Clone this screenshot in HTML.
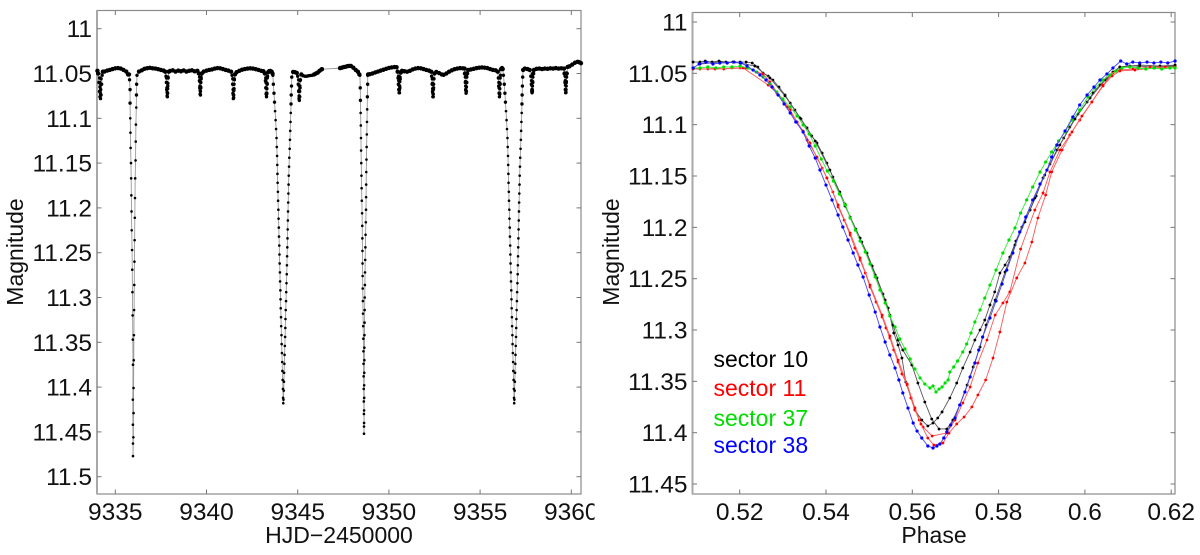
<!DOCTYPE html>
<html>
<head>
<meta charset="utf-8">
<title>Light curve and eclipse phases</title>
<style>
html,body{margin:0;padding:0;background:#fff;}
svg{display:block;}
text{font-family:"Liberation Sans",sans-serif;font-size:23px;fill:#111;}
text.tick{font-size:24.5px;}
</style>
</head>
<body>
<svg id="fig" xmlns="http://www.w3.org/2000/svg" width="1200" height="555" viewBox="0 0 1200 555">
<defs><clipPath id="edge"><rect x="0" y="0" width="594.5" height="555"/></clipPath></defs>
<rect x="0" y="0" width="1200" height="555" fill="#fff"/>
<g id="left"></g>
<g id="right"></g>
<text transform="translate(23,252) rotate(-90)" text-anchor="middle">Magnitude</text>
<text x="339" y="543" text-anchor="middle">HJD−2450000</text>
<text transform="translate(619,252) rotate(-90)" text-anchor="middle">Magnitude</text>
<text x="934" y="543" text-anchor="middle">Phase</text>
<text x="713.5" y="367" style="fill:#000">sector 10</text>
<text x="713.5" y="396" style="fill:#f00">sector 11</text>
<text x="713.5" y="426" style="fill:#00dc00">sector 37</text>
<text x="713.5" y="453" style="fill:#00f">sector 38</text>
</svg>
<script>
const leftXTicks = [9335, 9340, 9345, 9350, 9355, 9360];
const leftYTicks = ["11", "11.05", "11.1", "11.15", "11.2", "11.25", "11.3", "11.35", "11.4", "11.45", "11.5"];
const rightXTicks = ["0.52", "0.54", "0.56", "0.58", "0.6", "0.62"];
const rightYTicks = ["11", "11.05", "11.1", "11.15", "11.2", "11.25", "11.3", "11.35", "11.4", "11.45"];

const lightTimes = [
9334.02,9334.06,9334.1,9334.13,9334.16,9334.19,9334.22,9334.25,9334.28,9334.32,
9334.4,9334.55,9334.7,9334.85,9335,9335.15,9335.3,9335.45,9335.6,9335.7,
9335.75,9335.78,9335.81,9335.81,9335.82,9335.83,9335.84,9335.86,9335.87,9335.88,9335.89,9335.9,9335.92,9335.93,9335.94,9335.95,9335.96,9335.97,9335.96,9335.965,9335.97,9335.97,
9335.99,9336,9336,9336.01,9336.02,9336.03,9336.04,9336.05,9336.06,9336.07,9336.08,9336.09,9336.11,9336.12,9336.13,9336.15,9336.16,9336.17,9336.19,
9336.3,9336.45,9336.6,9336.75,9336.9,9337.05,9337.2,9337.35,9337.5,9337.65,9337.74,
9337.78,9337.8,9337.82,9337.84,9337.855,9337.87,9337.88,9337.9,9337.93,
9338,9338.15,9338.3,9338.45,9338.6,9338.75,9338.9,9339.05,9339.2,9339.35,9339.5,
9339.58,9339.61,9339.63,9339.65,9339.67,9339.69,9339.71,9339.74,
9339.85,9340,9340.15,9340.3,9340.45,9340.6,9340.75,9340.9,9341.05,9341.2,9341.35,
9341.4,9341.43,9341.45,9341.47,9341.49,9341.51,9341.53,9341.56,
9341.65,9341.8,9341.95,9342.1,9342.25,9342.4,9342.55,9342.7,9342.85,9343,9343.12,9343.2,
9343.23,9343.25,9343.27,9343.29,9343.31,9343.33,9343.35,9343.38,9343.43,9343.5,9343.57,9343.62,
9343.64,9343.665,9343.7,9343.73,9343.76,9343.79,9343.815,9343.84,9343.855,9343.87,9343.88,9343.89,9343.9,9343.915,9343.925,9343.94,9343.95,9343.965,9343.975,9343.99,9344,9344.01,9344.025,9344.035,9344.05,9344.06,9344.07,9344.085,9344.095,9344.11,9344.12,9344.135,9344.15,9344.16,9344.175,9344.19,9344.2,9344.21,
9344.22,9344.235,9344.245,9344.255,9344.27,9344.28,9344.295,9344.31,9344.32,9344.33,9344.345,9344.36,9344.37,9344.385,9344.4,9344.41,9344.42,9344.43,9344.44,9344.45,9344.46,9344.47,9344.48,9344.49,9344.5,9344.51,9344.525,9344.54,9344.56,9344.575,9344.59,9344.605,9344.62,9344.635,9344.645,9344.66,9344.675,
9344.75,9344.85,9344.95,9345,
9345.03,9345.05,9345.07,9345.09,9345.11,9345.13,9345.15,9345.2,
9345.3,9345.4,9345.5,9345.6,9345.7,9345.8,9345.9,9346,9346.1,9346.2,9346.3,9346.33,
9347.32,9347.42,9347.52,9347.62,9347.72,9347.82,9347.92,9348.05,9348.18,9348.3,9348.38,
9348.41,9348.43,9348.44,9348.45,9348.46,9348.47,9348.475,9348.485,9348.495,9348.505,9348.515,9348.53,9348.54,9348.545,9348.55,9348.555,9348.56,9348.565,9348.575,9348.58,9348.59,9348.6,9348.605,9348.61,9348.615,9348.62,9348.625,9348.63,9348.635,9348.635,
9348.64,9348.64,9348.645,9348.645,9348.65,9348.655,9348.655,9348.66,9348.665,9348.67,9348.675,9348.685,9348.69,9348.7,9348.71,9348.72,9348.735,9348.745,9348.75,9348.755,9348.76,9348.77,9348.78,9348.79,9348.8,9348.81,9348.82,9348.835,9348.84,
9348.86,9348.95,9349.1,9349.25,9349.4,9349.55,9349.7,9349.85,9350,9350.15,9350.3,9350.42,9350.48,
9350.5,9350.52,9350.54,9350.56,9350.58,9350.6,9350.62,9350.65,
9350.72,9350.85,9351,9351.15,9351.3,9351.45,9351.6,9351.75,9351.9,9352.05,9352.2,9352.32,
9352.34,9352.37,9352.39,9352.41,9352.43,9352.45,9352.47,9352.5,
9352.6,9352.75,9352.9,9353,9353.15,9353.3,9353.45,9353.6,9353.75,9353.9,9354.05,9354.15,
9354.17,9354.19,9354.21,9354.23,9354.25,9354.27,9354.29,
9354.35,9354.5,9354.65,9354.8,9354.95,9355.1,9355.25,9355.4,9355.55,9355.7,9355.85,9355.97,
9356,9356.02,9356.04,9356.06,9356.08,9356.1,9356.12,9356.15,9356.2,9356.24,
9356.28,9356.325,9356.36,9356.39,9356.42,9356.45,9356.475,9356.5,9356.515,9356.53,9356.54,9356.55,9356.56,9356.575,9356.585,9356.6,9356.61,9356.625,9356.635,9356.65,9356.66,9356.67,9356.685,9356.695,9356.71,9356.72,9356.73,9356.745,9356.755,9356.77,9356.78,9356.795,9356.81,9356.82,9356.835,9356.85,9356.86,9356.87,
9356.88,9356.895,9356.905,9356.915,9356.93,9356.94,9356.955,9356.97,9356.98,9356.99,9357.005,9357.02,9357.03,9357.045,9357.06,9357.07,9357.08,9357.09,9357.1,9357.11,9357.12,9357.13,9357.14,9357.15,9357.16,9357.17,9357.185,9357.2,9357.22,9357.235,9357.25,9357.265,9357.28,9357.295,9357.305,9357.32,9357.335,
9357.36,9357.45,9357.6,9357.72,
9357.78,9357.81,9357.83,9357.85,9357.87,9357.89,9357.91,9357.95,
9358.1,9358.25,9358.4,9358.55,9358.7,9358.85,9359,9359.15,9359.3,9359.45,9359.6,
9359.63,9359.65,9359.67,9359.69,9359.71,9359.73,9359.75,
9359.8,9359.9,9360.05,9360.2,9360.35,9360.45,9360.53
];
const lightMags = [
11.047,11.05,11.06,11.07,11.076,11.078,11.074,11.062,11.052,11.048,
11.0478,11.0468,11.046,11.045,11.0442,11.0439,11.0445,11.046,11.0478,11.051,
11.051,11.057,11.068,11.083,11.1,11.116,11.133,11.15,11.167,11.186,11.204,11.225,11.247,11.269,11.294,11.32,11.347,11.375,11.414,11.442,11.463,11.477,
11.456,11.429,11.401,11.37,11.342,11.314,11.286,11.26,11.236,11.211,11.189,11.167,11.147,11.126,11.107,11.088,11.074,11.062,11.052,
11.0478,11.0465,11.0448,11.0441,11.0437,11.0442,11.0445,11.0452,11.046,11.0468,11.048,
11.053,11.06,11.068,11.075,11.076,11.072,11.064,11.055,11.048,
11.0472,11.0465,11.0478,11.0468,11.0475,11.0466,11.0478,11.047,11.0465,11.0476,11.047,
11.05,11.058,11.066,11.073,11.074,11.066,11.056,11.05,
11.0478,11.0468,11.046,11.0455,11.0445,11.044,11.0442,11.045,11.046,11.0468,11.048,
11.052,11.062,11.072,11.078,11.077,11.067,11.057,11.051,
11.0485,11.047,11.0458,11.045,11.0445,11.0442,11.0445,11.0452,11.046,11.047,11.0475,11.05,
11.058,11.066,11.073,11.076,11.072,11.062,11.053,11.0485,11.0475,11.0472,11.048,11.05,
11.052,11.062,11.072,11.082,11.092,11.102,11.112,11.122,11.132,11.142,11.152,11.162,11.172,11.182,11.192,11.202,11.212,11.222,11.232,11.242,11.252,11.262,11.272,11.282,11.292,11.302,11.312,11.322,11.332,11.342,11.352,11.362,11.372,11.382,11.392,11.402,11.412,11.418,
11.414,11.404,11.394,11.384,11.374,11.364,11.354,11.344,11.334,11.324,11.314,11.304,11.294,11.284,11.274,11.264,11.254,11.244,11.234,11.224,11.214,11.204,11.194,11.184,11.174,11.164,11.154,11.144,11.134,11.124,11.114,11.104,11.094,11.084,11.074,11.064,11.054,
11.0483,11.0485,11.0494,11.053,
11.062,11.07,11.078,11.08,11.076,11.066,11.057,11.051,
11.0525,11.053,11.053,11.0525,11.0522,11.052,11.051,11.05,11.049,11.047,11.0455,11.0452,
11.044,11.0435,11.0428,11.0425,11.0418,11.0416,11.0416,11.0435,11.046,11.048,11.051,
11.052,11.066,11.08,11.094,11.108,11.122,11.136,11.15,11.164,11.178,11.192,11.206,11.22,11.234,11.248,11.262,11.276,11.29,11.304,11.318,11.332,11.346,11.36,11.374,11.388,11.402,11.416,11.43,11.444,11.452,
11.44,11.426,11.412,11.398,11.384,11.37,11.356,11.342,11.328,11.314,11.3,11.286,11.272,11.258,11.244,11.23,11.216,11.202,11.188,11.174,11.16,11.146,11.132,11.118,11.104,11.09,11.076,11.062,11.052,
11.051,11.0508,11.05,11.0488,11.0478,11.0468,11.0458,11.0448,11.0438,11.0432,11.0428,11.043,11.048,
11.055,11.062,11.068,11.0715,11.0715,11.066,11.056,11.049,
11.047,11.0475,11.048,11.047,11.0455,11.0445,11.044,11.0442,11.045,11.046,11.0468,11.048,
11.053,11.062,11.07,11.076,11.076,11.066,11.056,11.05,
11.0483,11.0495,11.051,11.0515,11.05,11.048,11.0465,11.0452,11.0445,11.044,11.0442,11.0445,
11.05,11.06,11.068,11.072,11.07,11.06,11.05,
11.0461,11.0455,11.0448,11.044,11.0435,11.0432,11.0435,11.044,11.045,11.046,11.0465,11.048,
11.055,11.064,11.072,11.076,11.073,11.062,11.052,11.045,11.0439,11.045,
11.052,11.062,11.072,11.082,11.092,11.102,11.112,11.122,11.132,11.142,11.152,11.162,11.172,11.182,11.192,11.202,11.212,11.222,11.232,11.242,11.252,11.262,11.272,11.282,11.292,11.302,11.312,11.322,11.332,11.342,11.352,11.362,11.372,11.382,11.392,11.402,11.412,11.418,
11.414,11.404,11.394,11.384,11.374,11.364,11.354,11.344,11.334,11.324,11.314,11.304,11.294,11.284,11.274,11.264,11.254,11.244,11.234,11.224,11.214,11.204,11.194,11.184,11.174,11.164,11.154,11.144,11.134,11.124,11.114,11.104,11.094,11.084,11.074,11.064,11.054,
11.046,11.0445,11.045,11.046,
11.053,11.062,11.07,11.0715,11.07,11.06,11.05,11.046,
11.0448,11.0445,11.045,11.0445,11.0448,11.0442,11.0445,11.044,11.0445,11.0442,11.0445,
11.05,11.06,11.068,11.0715,11.071,11.06,11.05,
11.0427,11.042,11.04,11.038,11.037,11.0375,11.0385
];

const shallowDipTimes = [
9334.14,9334.15,9334.16,9334.17,9334.19,9334.2,9334.21,9334.22,
9337.81,9337.82,9337.83,9337.84,9337.86,9337.87,9337.88,9337.89,
9339.62,9339.63,9339.64,9339.65,9339.67,9339.68,9339.69,9339.7,
9341.44,9341.45,9341.46,9341.47,9341.49,9341.5,9341.51,9341.52,
9343.25,9343.26,9343.27,9343.28,9343.3,9343.31,9343.32,9343.33,
9345.05,9345.06,9345.07,9345.08,9345.1,9345.11,9345.12,9345.13,
9350.53,9350.54,9350.55,9350.56,9350.58,9350.59,9350.6,9350.61,
9352.38,9352.39,9352.4,9352.41,9352.43,9352.44,9352.45,9352.46,
9354.19,9354.2,9354.21,9354.22,9354.24,9354.25,9354.26,9354.27,
9356.02,9356.03,9356.04,9356.05,9356.07,9356.08,9356.09,9356.1,
9357.81,9357.82,9357.83,9357.84,9357.86,9357.87,9357.88,9357.89,
9359.66,9359.67,9359.68,9359.69,9359.71,9359.72,9359.73,9359.74
];
const shallowDipMags = [
11.055,11.06,11.065,11.071,11.073,11.068,11.062,11.056,
11.055,11.06,11.066,11.071,11.072,11.067,11.061,11.054,
11.054,11.059,11.064,11.069,11.07,11.065,11.06,11.054,
11.056,11.062,11.068,11.074,11.074,11.069,11.062,11.056,
11.055,11.06,11.066,11.072,11.073,11.067,11.061,11.055,
11.057,11.063,11.069,11.075,11.076,11.07,11.064,11.058,
11.053,11.058,11.063,11.068,11.068,11.064,11.059,11.054,
11.056,11.061,11.067,11.072,11.073,11.068,11.062,11.056,
11.054,11.059,11.064,11.069,11.07,11.065,11.06,11.054,
11.055,11.06,11.066,11.072,11.072,11.067,11.061,11.055,
11.053,11.058,11.063,11.068,11.068,11.064,11.059,11.054,
11.053,11.058,11.063,11.068,11.068,11.064,11.059,11.054
];

const sector10aPhase = [.5092,.5108,.512,.5136,.5152,.5168,.5184,.5201,.5215,.5229,.5242,.5254,.5266,.5277,.5291,.5305,.5317,.5328,.5342,.5356,.5367,.5379,.5391,.5402,.5416,.5432,.5444,.5456,.5469,.5483,.5495,.5507,.5518,.5532,.5544,.5548,.5557,.5567,.5576,.5585,.5597,.5606,.5622,.5636,.5648,.5659,.5669,.5687,.5703,.5717,.5734,.5745,.5757,.5768,.578,.5791,.5803,.5815,.5826,.584,.5854,.5873,.5887,.5903,.5919,.5935,.5951,.5965,.5984,.6005,.6019,.6035,.6051,.6065,.6081,.6104,.6127,.6151,.6174,.6209];
const sector10aMag = [11.039,11.039,11.038,11.039,11.038,11.039,11.039,11.039,11.039,11.0399,11.0438,11.0497,11.0526,11.0565,11.0633,11.0711,11.0789,11.0857,11.0945,11.1032,11.111,11.1178,11.1276,11.1373,11.151,11.1656,11.1773,11.1899,11.2016,11.2143,11.225,11.2376,11.2493,11.2649,11.2786,11.2854,11.3029,11.3146,11.3273,11.3506,11.3662,11.3779,11.3877,11.3935,11.3906,11.3857,11.3798,11.3662,11.3516,11.337,11.3214,11.3097,11.3,11.2903,11.2756,11.2629,11.2445,11.2367,11.2289,11.2133,11.1997,11.1831,11.1695,11.1519,11.1383,11.1247,11.113,11.1023,11.0896,11.0779,11.0691,11.0614,11.0545,11.0487,11.0438,11.0429,11.0429,11.0438,11.0429,11.0429];
const sector10bPhase = [.5108,.5154,.5201,.5235,.527,.5305,.534,.5375,.5409,.5444,.5479,.5514,.5537,.5555,.5567,.5578,.5599,.5613,.5629,.5645,.5662,.568,.5694,.571,.5727,.5741,.5757,.5771,.5792,.5815,.5838,.5861,.5884,.5907,.5942,.5977,.6012,.6047,.6081,.6127,.6174,.6209];
const sector10bMag = [11.0409,11.039,11.0399,11.0429,11.0545,11.072,11.0935,11.1159,11.1442,11.1792,11.2104,11.2464,11.2708,11.2951,11.3097,11.3195,11.3341,11.3516,11.3701,11.3867,11.3964,11.3964,11.3877,11.373,11.3536,11.336,11.3166,11.2951,11.2708,11.2435,11.2172,11.1948,11.1714,11.149,11.1198,11.0945,11.074,11.0565,11.0438,11.0419,11.0429,11.0419];

const sector11aPhase = [.5092,.5108,.5126,.5145,.5163,.5182,.5201,.5215,.5231,.524,.5254,.527,.5286,.53,.5317,.5333,.5347,.5363,.5379,.5391,.5402,.5416,.5428,.5442,.5456,.5467,.5479,.5491,.5502,.5516,.553,.5539,.5548,.5557,.5567,.5576,.5588,.5597,.5606,.5616,.5625,.5646,.568,.5699,.5717,.5734,.5752,.5773,.5792,.581,.5826,.5851,.5884,.5903,.5919,.5942,.5965,.5988,.6016,.6042,.6065,.6081,.6111,.6151,.6186,.6209];
const sector11aMag = [11.0448,11.0458,11.0458,11.0448,11.0458,11.0448,11.0448,11.0448,11.0468,11.0487,11.0506,11.0584,11.0682,11.076,11.0857,11.0974,11.1062,11.1178,11.1325,11.1422,11.1519,11.1656,11.1802,11.1929,11.2075,11.2201,11.2318,11.2445,11.2581,11.2727,11.2873,11.298,11.3078,11.3195,11.3311,11.3428,11.3536,11.3662,11.3779,11.3877,11.3945,11.4032,11.4003,11.3877,11.3711,11.3555,11.3321,11.3097,11.2854,11.2737,11.2629,11.2211,11.1831,11.1665,11.1461,11.1247,11.11,11.0955,11.0779,11.0614,11.0497,11.0468,11.0458,11.0438,11.0438,11.0438];
const sector11bPhase = [.5092,.5143,.5208,.5266,.5286,.531,.5333,.5356,.5379,.5402,.5428,.5456,.5479,.5502,.553,.5548,.5567,.5588,.5606,.562,.5636,.565,.5671,.5685,.5703,.572,.5738,.5752,.577,.5787,.5803,.5819,.5842,.5861,.5877,.5891,.5909,.5923,.5947,.597,.5993,.6016,.6042,.6063,.6081,.6116,.6162,.6209];
const sector11bMag = [11.0458,11.0458,11.0448,11.0614,11.0692,11.0828,11.0974,11.1149,11.1315,11.1519,11.1782,11.2055,11.2298,11.2562,11.2854,11.3058,11.3292,11.3526,11.3759,11.3916,11.4052,11.412,11.4101,11.4003,11.3915,11.3847,11.375,11.3633,11.3487,11.3273,11.3019,11.2727,11.2493,11.2347,11.2143,11.1909,11.1685,11.1461,11.1247,11.1071,11.0916,11.0779,11.0623,11.0526,11.0477,11.0468,11.0448,11.0448];

const sector37Phase = [.5092,.5108,.5126,.5145,.5163,.5182,.5201,.5219,.5238,.5254,.527,.5286,.53,.5317,.5333,.5347,.5361,.5375,.5389,.5403,.5417,.5431,.5445,.5456,.5468,.5479,.5491,.5502,.5514,.5525,.5537,.5548,.556,.5571,.5583,.5595,.5606,.5618,.5629,.5641,.5648,.5655,.5662,.5669,.5676,.5683,.5687,.5696,.5705,.5717,.5726,.5736,.5745,.5757,.5768,.578,.5794,.581,.5824,.5838,.5851,.5865,.5879,.5896,.5909,.5923,.5939,.5954,.597,.5988,.6007,.6023,.6042,.6058,.6072,.6086,.6104,.6123,.6141,.616,.6178,.6197,.6209];
const sector37Mag = [11.0448,11.0448,11.0438,11.0448,11.0438,11.0438,11.0429,11.0448,11.0487,11.0536,11.0604,11.0682,11.075,11.0828,11.0915,11.1003,11.1091,11.1208,11.1335,11.1451,11.1549,11.1675,11.1782,11.1909,11.2026,11.2133,11.224,11.2357,11.2484,11.261,11.2737,11.2864,11.297,11.3087,11.3185,11.3282,11.3379,11.3467,11.3526,11.3565,11.3545,11.3604,11.3575,11.3555,11.3516,11.3487,11.3409,11.336,11.3302,11.3214,11.3136,11.3029,11.2922,11.2805,11.2688,11.2562,11.2416,11.225,11.2123,11.2006,11.186,11.1734,11.1607,11.1461,11.1364,11.1266,11.1159,11.1071,11.0955,11.0857,11.073,11.0643,11.0565,11.0516,11.0477,11.0448,11.0438,11.0448,11.0458,11.0448,11.0458,11.0448,11.0448];

const sector38Phase = [.5092,.5106,.5122,.5138,.5154,.5171,.5187,.5203,.5217,.5231,.5247,.5261,.5275,.5289,.5303,.5317,.533,.5347,.5361,.5375,.5386,.54,.5414,.5428,.5439,.5451,.5463,.5474,.5486,.55,.5514,.5525,.5537,.5548,.556,.5569,.5578,.559,.5602,.5611,.5622,.5636,.5648,.5657,.5664,.5673,.568,.5689,.5699,.571,.5722,.5734,.5745,.5754,.5763,.578,.5794,.5808,.5819,.5833,.5849,.5863,.5879,.5896,.5912,.5923,.5935,.5954,.5972,.5988,.6005,.6021,.6035,.6051,.6065,.6083,.6097,.6111,.6127,.6144,.616,.6176,.6192,.6209];
const sector38Mag = [11.0448,11.0409,11.039,11.0409,11.0399,11.0399,11.039,11.0399,11.0429,11.0468,11.0516,11.0565,11.0633,11.0711,11.0799,11.0886,11.0974,11.1071,11.1208,11.1325,11.1442,11.1588,11.1734,11.188,11.1997,11.2123,11.225,11.2367,11.2484,11.2659,11.2825,11.2971,11.3117,11.3243,11.337,11.3487,11.3613,11.376,11.3906,11.3984,11.4052,11.413,11.4149,11.413,11.411,11.4052,11.3993,11.3925,11.3857,11.373,11.3604,11.3458,11.3321,11.3195,11.3068,11.2883,11.2717,11.2552,11.2416,11.225,11.2045,11.1899,11.1734,11.1578,11.1442,11.1315,11.1198,11.1061,11.0925,11.0808,11.0711,11.0633,11.0565,11.0506,11.0448,11.038,11.0409,11.039,11.0399,11.039,11.0399,11.039,11.0399,11.038];

const SVG_NS = "http://www.w3.org/2000/svg";
function xLeft(v){ return 115.3 + (v - 9335) * 18.24; }
function yLeft(v){ return 28.7 + (v - 11) * 896; }
function xRight(v){ return 739.7 + (v - 0.52) * 4315; }
function yRight(v){ return 22 + (v - 11) * 1026.7; }

function make(tag, parent, props){
  const el = document.createElementNS(SVG_NS, tag);
  for (const k in props) el.setAttribute(k, props[k]);
  parent.appendChild(el);
  return el;
}

function drawFrame(parent, box, xVals, yVals, xFn, yFn, prefix){
  const frame = make("g", parent, {});
  
  
  const rect = make("rect", frame, {x:box.l, y:box.t, width:box.r-box.l, height:box.b-box.t, fill:"none", stroke:"#8a8a8a", "stroke-width":1.2});
  
  
  const leftEdge = make("line", frame, {x1:box.l, x2:box.l, y1:box.t, y2:box.b, stroke:"#a8a8a8", "stroke-width":2});
  
  
  xVals.forEach(function(v){
    const x = xFn(Number(v));
    const a = make("line", frame, {x1:x, x2:x, y1:box.b, y2:box.b-4.5, stroke:"#777", "stroke-width":1});
    
    
    const b = make("line", frame, {x1:x, x2:x, y1:box.t, y2:box.t+4.5, stroke:"#777", "stroke-width":1});
    
    
    const t = make("text", frame, {x:x, y:520, "text-anchor":"middle", "class":"tick"});
    t.textContent = String(v);
    
    
    if (prefix === 'left') t.setAttribute('clip-path', 'url(#edge)');
  });
  yVals.forEach(function(v){
    const y = yFn(Number(v));
    const a = make("line", frame, {x1:box.l, x2:box.l+4.5, y1:y, y2:y, stroke:"#777", "stroke-width":1});
    
    
    const b = make("line", frame, {x1:box.r, x2:box.r-4.5, y1:y, y2:y, stroke:"#777", "stroke-width":1});
    
    
    const t = make("text", frame, {x:box.l-5, y:y+8.5, "text-anchor":"end", "class":"tick"});
    t.textContent = v;
    
    
  });
}

function drawSeries(parent, xs, ys, xFn, yFn, color, lineColor, radiusFn, name){
  const g = make("g", parent, {});
  
  
  if (lineColor) {
    let pts = "";
    for (let i = 0; i < xs.length; i++) pts += xFn(xs[i]).toFixed(2) + "," + yFn(ys[i]).toFixed(2) + " ";
    const line = make("polyline", g, {points:pts, fill:"none", stroke:lineColor, "stroke-width":0.9});
    
    
  }
  for (let i = 0; i < xs.length; i++) {
    const c = make("circle", g, {cx:xFn(xs[i]).toFixed(2), cy:yFn(ys[i]).toFixed(2), r:radiusFn(ys[i]), fill:color});
    
    
  }
}

function lightRadius(mag){ return mag < 11.052 ? 2.2 : (mag < 11.085 ? 1.7 : 1.3); }
function phaseRadius(){ return 1.4; }
function densePhaseRadius(){ return 1.6; }

const leftGroup = document.getElementById("left");
const rightGroup = document.getElementById("right");
drawFrame(leftGroup, {l:97, r:581, t:10.5, b:494}, leftXTicks, leftYTicks, xLeft, yLeft, 'left');
drawFrame(rightGroup, {l:692.5, r:1175, t:12.5, b:494}, rightXTicks, rightYTicks, xRight, yRight, 'right');
drawSeries(leftGroup, lightTimes, lightMags, xLeft, yLeft, "#000", "#999", lightRadius, 'light-curve');
drawSeries(leftGroup, shallowDipTimes, shallowDipMags, xLeft, yLeft, "#000", null, lightRadius, 'shallow-eclipse-samples');
drawSeries(rightGroup, sector10aPhase, sector10aMag, xRight, yRight, "#000", "#555", phaseRadius, 'sector-10-first-eclipse');
drawSeries(rightGroup, sector10bPhase, sector10bMag, xRight, yRight, "#000", "#555", phaseRadius, 'sector-10-second-eclipse');
drawSeries(rightGroup, sector11aPhase, sector11aMag, xRight, yRight, "#f00", "#f55", phaseRadius, 'sector-11-first-eclipse');
drawSeries(rightGroup, sector11bPhase, sector11bMag, xRight, yRight, "#f00", "#f55", phaseRadius, 'sector-11-second-eclipse');
drawSeries(rightGroup, sector37Phase, sector37Mag, xRight, yRight, "#00dc00", "#3e3", densePhaseRadius, 'sector-37');
drawSeries(rightGroup, sector38Phase, sector38Mag, xRight, yRight, "#00f", "#44f", densePhaseRadius, 'sector-38');
</script>
</body>
</html>
